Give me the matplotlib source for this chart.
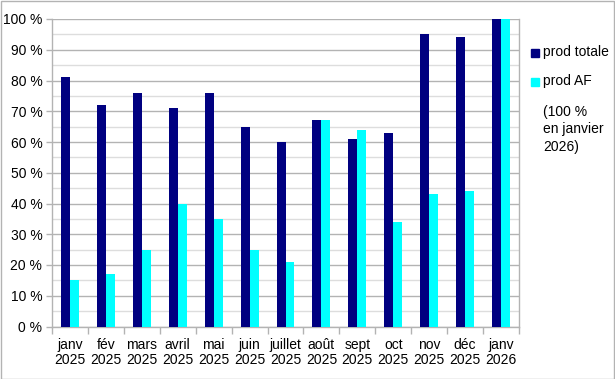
import matplotlib
matplotlib.use("Agg")
import matplotlib.pyplot as plt
import numpy as np
from matplotlib.ticker import MultipleLocator, FuncFormatter
from matplotlib.patches import Rectangle

plt.rcParams['font.family'] = ['Liberation Sans', 'DejaVu Sans']

categories = ["janv\n2025", "fév\n2025", "mars\n2025", "avril\n2025", "mai\n2025", "juin\n2025",
              "juillet\n2025", "août\n2025", "sept\n2025", "oct\n2025", "nov\n2025", "déc\n2025", "janv\n2026"]
prod_totale = [81, 72, 76, 71, 76, 65, 60, 67, 61, 63, 95, 94, 100]
prod_af = [15, 17, 25, 40, 35, 25, 21, 67, 64, 34, 43, 44, 100]

c_tot = "#000080"
c_af = "#00ffff"

fig = plt.figure(figsize=(6.15, 3.79), dpi=100)
ax = fig.add_axes([52/615, 1-326.5/379, (519-52)/615, (326.5-19)/379])

x = np.arange(len(categories))
w = 0.25
ax.bar(x - w/2, prod_totale, w, color=c_tot, zorder=3, label="prod totale")
ax.bar(x + w/2, prod_af, w, color=c_af, zorder=3, label="prod AF")

ax.set_xlim(-0.5, len(categories) - 0.5)
ax.set_ylim(0, 100)
ax.yaxis.set_major_locator(MultipleLocator(10))
ax.yaxis.set_minor_locator(MultipleLocator(5))
ax.yaxis.set_major_formatter(FuncFormatter(lambda v, p: f"{int(v)} %"))
ax.grid(axis='y', which='major', color='#b3b3b3', linewidth=1, zorder=0)
ax.grid(axis='y', which='minor', color='#dddddd', linewidth=1, zorder=0)

ax.set_xticks(np.arange(len(categories) + 1) - 0.5)
ax.set_xticklabels([])
ax.set_xticks(x, minor=True)
ax.set_xticklabels(categories, minor=True, fontsize=10, linespacing=1.15)
ax.tick_params(axis='x', which='major', length=5, color='#b3b3b3', width=1)
ax.tick_params(axis='x', which='minor', length=0, pad=8)
ax.tick_params(axis='y', which='major', length=4, color='#b3b3b3', width=1, labelsize=10, pad=3)
ax.tick_params(axis='y', which='minor', length=0)

for s in ['top']:
    ax.spines[s].set_visible(False)
for s in ['left', 'bottom', 'right']:
    ax.spines[s].set_color('#b3b3b3')
    ax.spines[s].set_linewidth(1)

# legend
fig.text(543/615, 1-52/379, "prod totale", fontsize=10, va='center', ha='left')
fig.text(543/615, 1-81/379, "prod AF", fontsize=10, va='center', ha='left')
fig.add_artist(Rectangle((531/615, 1-56.5/379), 8/615, 8/379, transform=fig.transFigure, color=c_tot))
fig.add_artist(Rectangle((531/615, 1-85.5/379), 8/615, 8/379, transform=fig.transFigure, color=c_af))
fig.text(543/615, 1-105/379, "(100 %\nen janvier\n2026)", fontsize=10, va='top', ha='left',
         multialignment='left', linespacing=1.3)

fig.add_artist(Rectangle((0.5/615, 0.5/379), 613.5/615, 377.5/379, transform=fig.transFigure,
                         fill=False, edgecolor='#b3b3b3', linewidth=1))

fig.savefig("out.png", dpi=100)
